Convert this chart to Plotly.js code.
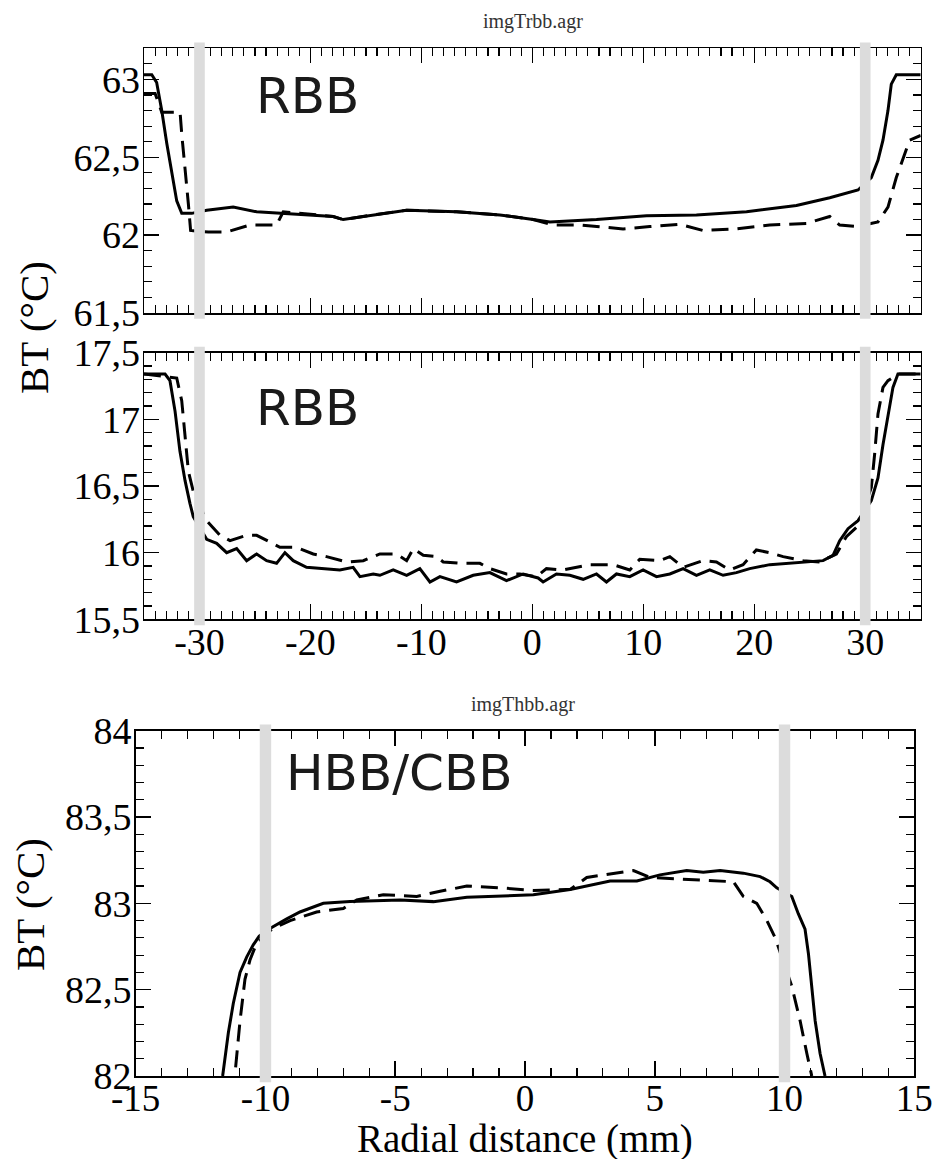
<!DOCTYPE html>
<html>
<head>
<meta charset="utf-8">
<script src="https://cdn.plot.ly/plotly-3.0.1.min.js"></script>
<style>html,body{margin:0;padding:0;background:#fff}#plot{width:937px;height:1159px}</style>
</head>
<body>
<div id="plot"></div>
<script>
// ---------- Panel 1 : RBB (upper) ----------
const p1SolidX = [-35, -34.3, -33.86, -33.4, -32.95, -32.5, -32.05, -31.6, -30.7, -29.35, -26.96, -24.85, -21.85, -17.95, -17.05, -14.35, -11.33, -6.83, -2.93, 0.07, 1.58, 5.78, 10.29, 14.79, 19.3, 23.8, 26.8, 29.35, 30.55, 31.15, 31.6, 32.05, 32.35, 32.8, 35];
const p1SolidY = [63.03, 63.03, 62.98, 62.80, 62.59, 62.40, 62.22, 62.14, 62.14, 62.16, 62.18, 62.15, 62.135, 62.12, 62.10, 62.13, 62.16, 62.15, 62.13, 62.10, 62.085, 62.10, 62.125, 62.13, 62.15, 62.19, 62.24, 62.29, 62.37, 62.48, 62.61, 62.80, 62.97, 63.03, 63.03];
const p1DashX = [-35, -34.0, -33.4, -31.75, -31.6, -31.3, -31.0, -30.8, -29.2, -27.55, -25.45, -23.05, -22.45, -17.95, -17.05, -14.35, -11.33, -6.83, -2.93, 0.07, 1.87, 4.28, 8.18, 10.58, 13.29, 15.39, 18.4, 21.4, 24.7, 26.8, 27.7, 29.2, 31.15, 32.05, 32.8, 33.55, 34.0, 35];
const p1DashY = [62.91, 62.91, 62.79, 62.79, 62.65, 62.44, 62.20, 62.03, 62.02, 62.02, 62.065, 62.065, 62.15, 62.12, 62.10, 62.13, 62.16, 62.15, 62.13, 62.10, 62.065, 62.065, 62.04, 62.055, 62.07, 62.03, 62.04, 62.065, 62.075, 62.12, 62.065, 62.055, 62.085, 62.18, 62.37, 62.52, 62.61, 62.64];

// ---------- Panel 2 : RBB (lower) ----------
const p2SolidX = [-35, -33.1, -32.66, -32.2, -31.76, -31.3, -30.86, -30.56, -29.35, -28.45, -27.55, -26.65, -25.75, -24.85, -23.95, -23.05, -22.3, -21.55, -20.35, -18.85, -17.35, -16.15, -15.54, -14.34, -13.74, -12.54, -11.33, -10.14, -9.23, -8.33, -6.83, -5.33, -3.83, -2.33, -0.83, 0.52, 0.97, 2.17, 3.38, 4.58, 5.78, 6.68, 7.58, 8.78, 9.98, 11.19, 12.39, 13.59, 14.79, 15.99, 17.19, 18.39, 19.59, 21.4, 23.2, 25.0, 26.2, 27.1, 27.7, 28.45, 29.35, 30.55, 31.15, 31.6, 32.05, 32.5, 32.95, 35];
const p2SolidY = [17.34, 17.34, 17.29, 17.06, 16.76, 16.54, 16.37, 16.27, 16.10, 16.07, 16.00, 16.03, 15.94, 15.99, 15.94, 15.92, 16.00, 15.94, 15.89, 15.88, 15.87, 15.89, 15.82, 15.84, 15.83, 15.87, 15.83, 15.88, 15.78, 15.82, 15.78, 15.83, 15.85, 15.79, 15.84, 15.81, 15.78, 15.84, 15.83, 15.80, 15.84, 15.78, 15.84, 15.82, 15.87, 15.82, 15.84, 15.88, 15.83, 15.87, 15.83, 15.85, 15.88, 15.91, 15.92, 15.93, 15.94, 15.98, 16.09, 16.18, 16.24, 16.39, 16.56, 16.81, 17.01, 17.24, 17.34, 17.34];
const p2DashX = [-35, -32.05, -31.6, -31.3, -31.0, -30.56, -29.35, -28.15, -27.25, -25.75, -24.85, -23.65, -22.75, -21.25, -19.75, -18.55, -16.75, -15.24, -13.74, -12.24, -11.33, -10.73, -9.83, -8.63, -8.03, -6.53, -4.73, -3.83, -2.33, -1.13, 0.37, 1.27, 2.77, 5.18, 7.28, 8.78, 9.68, 11.49, 12.39, 13.59, 15.39, 16.59, 17.79, 18.99, 20.19, 21.4, 22.6, 24.4, 25.9, 27.4, 28.3, 29.35, 30.55, 30.85, 31.15, 31.6, 32.05, 33.0, 35];
const p2DashY = [17.34, 17.31, 17.14, 16.89, 16.61, 16.46, 16.24, 16.13, 16.09, 16.13, 16.13, 16.08, 16.04, 16.04, 15.99, 15.97, 15.93, 15.94, 15.99, 15.99, 15.94, 16.03, 15.98, 15.97, 15.93, 15.92, 15.92, 15.88, 15.84, 15.84, 15.82, 15.88, 15.87, 15.91, 15.91, 15.87, 15.95, 15.94, 15.97, 15.89, 15.94, 15.93, 15.87, 15.91, 16.02, 16.00, 15.97, 15.94, 15.93, 15.99, 16.12, 16.20, 16.49, 16.74, 17.04, 17.24, 17.29, 17.34, 17.34];

// ---------- Panel 3 : HBB/CBB ----------
const p3SolidX = [-11.65, -11.43, -11.24, -10.98, -10.72, -10.47, -10.24, -9.76, -9.18, -8.67, -7.77, -6.74, -4.81, -3.53, -2.24, 0.32, 1.74, 2.64, 3.28, 4.31, 5.2, 6.23, 6.87, 7.52, 8.41, 9.06, 9.44, 9.7, 10.28, 10.53, 10.79, 10.92, 11.05, 11.18, 11.37, 11.56];
const p3SolidY = [82.0, 82.25, 82.42, 82.6, 82.69, 82.76, 82.81, 82.86, 82.91, 82.95, 83.0, 83.01, 83.02, 83.01, 83.035, 83.05, 83.08, 83.11, 83.13, 83.13, 83.165, 83.19, 83.18, 83.19, 83.175, 83.155, 83.125, 83.09, 83.04, 82.94, 82.85, 82.71, 82.52, 82.32, 82.13, 82.0];
const p3DashX = [-11.15, -10.98, -10.79, -10.6, -10.34, -9.76, -9.05, -8.03, -7.0, -6.48, -5.46, -4.17, -3.27, -2.24, -0.96, 0.32, 1.6, 1.74, 2.38, 3.28, 4.18, 4.82, 5.59, 6.87, 8.03, 8.41, 8.93, 9.32, 9.64, 10.28, 10.6, 10.86, 11.05];
const p3DashY = [82.05, 82.32, 82.56, 82.67, 82.77, 82.85, 82.90, 82.95, 82.97, 83.02, 83.05, 83.04, 83.07, 83.10, 83.09, 83.075, 83.08, 83.08, 83.15, 83.17, 83.19, 83.15, 83.145, 83.135, 83.125, 83.04, 83.0, 82.90, 82.80, 82.52, 82.32, 82.13, 82.0];

// ---------- Reference bands (aperture edges) ----------
const bandsRBB = [-30, 30];
const bandsHBB = [-10, 10];

// ---------- Tick labels ----------
const xTickValsRBB = [-30, -20, -10, 0, 10, 20, 30];
const xTickTextRBB = ['-30', '-20', '-10', '0', '10', '20', '30'];
const xTickValsHBB = [-15, -10, -5, 0, 5, 10, 15];
const xTickTextHBB = ['-15', '-10', '-5', '0', '5', '10', '15'];

// ---------- Text ----------
const fileTitleTop = 'imgTrbb.agr';
const fileTitleBottom = 'imgThbb.agr';
const panelLabels = ['RBB', 'RBB', 'HBB/CBB'];
const yTitle = 'BT (°C)';
const xTitle = 'Radial distance (mm)';

const solid = {color: '#000', width: 3};
const dashed = {color: '#000', width: 3, dash: '17px,9px'};

const traces = [
  {x: p1SolidX, y: p1SolidY, xaxis: 'x', yaxis: 'y', mode: 'lines', line: solid},
  {x: p1DashX, y: p1DashY, xaxis: 'x', yaxis: 'y', mode: 'lines', line: dashed},
  {x: p2SolidX, y: p2SolidY, xaxis: 'x2', yaxis: 'y2', mode: 'lines', line: solid},
  {x: p2DashX, y: p2DashY, xaxis: 'x2', yaxis: 'y2', mode: 'lines', line: dashed},
  {x: p3SolidX, y: p3SolidY, xaxis: 'x3', yaxis: 'y3', mode: 'lines', line: solid},
  {x: p3DashX, y: p3DashY, xaxis: 'x3', yaxis: 'y3', mode: 'lines', line: dashed}
];

const tickFont = {family: 'Liberation Serif', size: 38, color: '#000'};
function minorCfg(d) {
  return {ticks: 'inside', ticklen: 8, tickwidth: 1.2, tickcolor: '#000', dtick: d, tick0: 0, showgrid: false};
}
function ax(extra) {
  return Object.assign({
    showline: true, linecolor: '#000', linewidth: 1.5, mirror: 'ticks',
    ticks: 'inside', ticklen: 15, tickwidth: 1.5, tickcolor: '#000',
    showgrid: false, zeroline: false, tickfont: tickFont, fixedrange: true
  }, extra);
}

const xdomTop = [144/937, 920.7/937];
const xdomBot = [135.7/937, 914.3/937];

const layout = {
  width: 937, height: 1159,
  margin: {l: 0, r: 0, t: 0, b: 0},
  paper_bgcolor: '#fff', plot_bgcolor: '#fff',
  showlegend: false,
  separators: ',.',
  xaxis: ax({domain: xdomTop, anchor: 'y', range: [-35, 35], tickmode: 'array', tickvals: xTickValsRBB, ticktext: xTickTextRBB, minor: minorCfg(1), showticklabels: false}),
  yaxis: ax({domain: [1 - 313/1159, 1 - 48.3/1159], anchor: 'x', range: [61.5, 63.2], tick0: 0, dtick: 0.5, minor: minorCfg(0.1), ticklabelstandoff: -5}),
  xaxis2: ax({domain: xdomTop, anchor: 'y2', range: [-35, 35], tickmode: 'array', tickvals: xTickValsRBB, ticktext: xTickTextRBB, minor: minorCfg(1), ticklabelstandoff: -11}),
  yaxis2: ax({domain: [1 - 619.3/1159, 1 - 352.7/1159], anchor: 'x2', range: [15.5, 17.5], tick0: 0, dtick: 0.5, minor: minorCfg(0.1), ticklabelstandoff: -5}),
  xaxis3: ax({domain: xdomBot, anchor: 'y3', range: [-15, 15], tickmode: 'array', tickvals: xTickValsHBB, ticktext: xTickTextHBB, minor: minorCfg(1), ticklabelstandoff: -11, tickfont: {family: 'Liberation Serif', size: 37, color: '#000'}}),
  yaxis3: ax({domain: [1 - 1076/1159, 1 - 730.7/1159], anchor: 'x3', range: [82, 84], tick0: 0, dtick: 0.5, minor: minorCfg(0.1), ticklabelstandoff: -5}),
  shapes: [],
  annotations: []
};

const bandColor = '#dcdcdc';
bandsRBB.forEach(c => {
  ['', '2'].forEach(s => {
    layout.shapes.push({type: 'rect', layer: 'above', xref: 'x' + s, yref: 'y' + s + ' domain',
      x0: c - 0.48, x1: c + 0.48, y0: -0.022, y1: 1.022, fillcolor: bandColor, line: {width: 0}});
  });
});
bandsHBB.forEach(c => {
  layout.shapes.push({type: 'rect', layer: 'above', xref: 'x3', yref: 'y3 domain',
    x0: c - 0.22, x1: c + 0.22, y0: -0.018, y1: 1.018, fillcolor: bandColor, line: {width: 0}});
});

const A = layout.annotations;
const lab = {family: 'DejaVu Sans', size: 50, color: '#1a1a1a'};
A.push({text: panelLabels[0], xref: 'paper', yref: 'paper', x: 254/937, y: 1 - 96/1159, xanchor: 'left', yanchor: 'middle', showarrow: false, font: lab});
A.push({text: panelLabels[1], xref: 'paper', yref: 'paper', x: 254/937, y: 1 - 408/1159, xanchor: 'left', yanchor: 'middle', showarrow: false, font: lab});
A.push({text: panelLabels[2], xref: 'paper', yref: 'paper', x: 284/937, y: 1 - 773/1159, xanchor: 'left', yanchor: 'middle', showarrow: false, font: lab});
const small = {family: 'Liberation Serif', size: 20, color: '#333'};
A.push({text: fileTitleTop, xref: 'paper', yref: 'paper', x: 533/937, y: 1 - 21.7/1159, xanchor: 'center', yanchor: 'middle', showarrow: false, font: small});
A.push({text: fileTitleBottom, xref: 'paper', yref: 'paper', x: 523/937, y: 1 - 704/1159, xanchor: 'center', yanchor: 'middle', showarrow: false, font: small});
const big = {family: 'Liberation Serif', size: 41, color: '#000'};
A.push({text: yTitle, xref: 'paper', yref: 'paper', x: 34/937, y: 1 - 328/1159, xanchor: 'center', yanchor: 'middle', textangle: -90, showarrow: false, font: big});
A.push({text: yTitle, xref: 'paper', yref: 'paper', x: 30/937, y: 1 - 905/1159, xanchor: 'center', yanchor: 'middle', textangle: -90, showarrow: false, font: big});
A.push({text: xTitle, xref: 'paper', yref: 'paper', x: 525/937, y: 0, xanchor: 'center', yanchor: 'bottom', yshift: -4, showarrow: false, font: {family: 'Liberation Serif', size: 39, color: '#000'}});

Plotly.newPlot('plot', traces, layout, {staticPlot: true, displayModeBar: false});
</script>
</body>
</html>
